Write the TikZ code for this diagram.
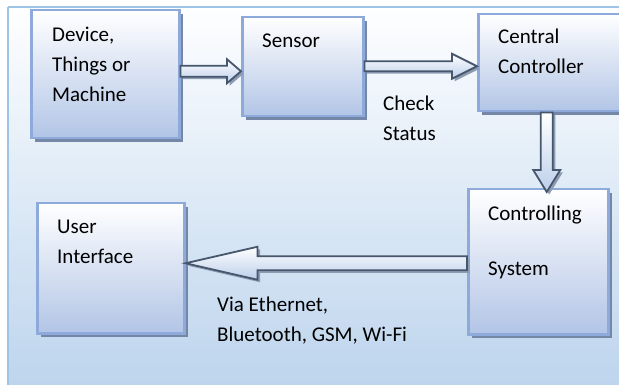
\documentclass[tikz,border=0pt]{standalone}
\usepackage{fontspec}
\setmainfont{Carlito}
\usetikzlibrary{calc,shadows}
\definecolor{bgtop}{HTML}{FDFEFF}
\definecolor{bgbot}{HTML}{BED5ED}
\definecolor{bgline}{HTML}{9DC3E6}
\definecolor{boxline}{HTML}{8EAADB}
\definecolor{boxbot}{HTML}{B2C5E6}
\definecolor{boxshadow}{HTML}{7587A6}
\definecolor{arrline}{HTML}{46566D}
\definecolor{arrbot}{HTML}{BCCFEA}
\definecolor{arrshadow}{HTML}{8D9BB3}
\newcommand\harr[6]{%
  \draw[blockarr] let \p1=($(#1)+(0,#3)$), \p2=(#2) in
    (\x1,\y1+#4) -- ({\x2-(#6)},\y1+#4) -- ({\x2-(#6)},\y1+#5) -- (\x2,\y1)
    -- ({\x2-(#6)},\y1-#5) -- ({\x2-(#6)},\y1-#4) -- (\x1,\y1-#4) -- cycle;}
\newcommand\varr[7]{%
  \draw[blockarr] let \p1=($(#1)+(#3,0)$), \p2=($(#2)+(0,#7)$) in
    (\x1+#4,\y1) -- (\x1+#4,{\y2+#6}) -- (\x1+#5,{\y2+#6}) -- (\x1,\y2)
    -- (\x1-#5,{\y2+#6}) -- (\x1-#4,{\y2+#6}) -- (\x1-#4,\y1) -- cycle;}
\begin{document}
\begin{tikzpicture}[x=1pt,y=-1pt,
  font=\fontsize{21}{30}\selectfont,
  box/.style 2 args={rectangle, draw=boxline, line width=2.5pt,
    top color=white, bottom color=boxbot, anchor=north west, inner sep=0pt,
    minimum width=#1, minimum height=#2,
    drop shadow={shadow xshift=3.5pt, shadow yshift=-3.5pt, fill=boxshadow, opacity=1}},
  txt/.style={anchor=base west, align=left, inner sep=0pt, text=black},
  blockarr/.style={draw=arrline, line width=1.8pt, line join=miter,
    top color=white, bottom color=arrbot,
    drop shadow={shadow xshift=2.5pt, shadow yshift=-2.5pt, fill=arrshadow, opacity=1}}]
\useasboundingbox (0,0) rectangle (619,385);
\fill[white] (0,0) rectangle (619,385);
\foreach \i in {0,...,59} {
  \pgfmathsetmacro\frac{100*\i/59}
  \fill[bgbot!\frac!bgtop] (9,{8+\i*6.3}) rectangle (619,{8+(\i+1)*6.3+0.5});
}
\draw[bgline, line width=2pt] (8,7) -- (625,7) (8,7) -- (8,390);

\node[box={148pt}{128pt}] (b1) at (30,9) {};
\node[box={121pt}{99pt}] (b2) at (241,16) {};
\node[box={150pt}{97pt}] (b3) at (477,13) {};
\node[box={140pt}{145pt}] (b4) at (467,188) {};
\node[box={147pt}{130pt}] (b5) at (36,202) {};

\node[txt] (t1) at ($(b1.north west)+(22,93)$) {Device,\\Things or\\Machine};
\node[txt] (t2) at ($(b2.north west)+(21,32)$) {Sensor};
\node[txt] (t3) at ($(b3.north west)+(21,61)$) {Central\\Controller};
\node[txt] (t4) at ($(b4.north west)+(21,88)$) {Controlling\\[26pt]System};
\node[txt] (t5) at ($(b5.north west)+(21,61)$) {User\\Interface};

\harr{b1.east}{b2.west}{-3}{5.5pt}{12pt}{14pt}
\harr{b2.east}{b3.west}{-0.5}{5pt}{12.5pt}{25pt}
\varr{b3.south}{b4.north}{-6.5}{6pt}{13.5pt}{22pt}{4}
\harr{b4.west}{b5.east}{1.5}{7pt}{16.5pt}{-72pt}

\node[txt] (l1) at (383,141) {Check\\Status};
\node[txt] (l2) at (217,341) {Via Ethernet,\\Bluetooth, GSM, Wi-Fi};
\end{tikzpicture}
\end{document}
